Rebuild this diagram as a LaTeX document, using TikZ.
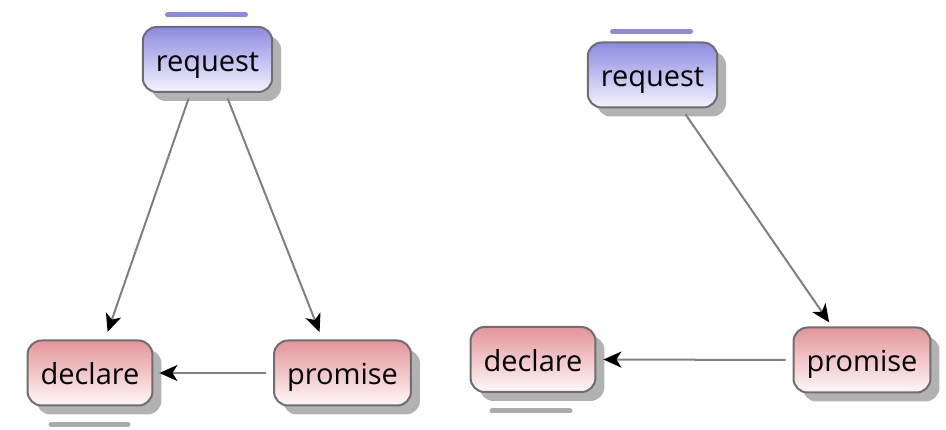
\documentclass[tikz,border=0pt]{standalone}
\usepackage{fontspec}
\setmainfont{Open Sans}
\usetikzlibrary{arrows.meta,shadows}
\definecolor{gris}{HTML}{808080}
\definecolor{bord}{HTML}{6E6E6E}
\definecolor{bleuhaut}{HTML}{8C8AE0}
\definecolor{bleubas}{HTML}{F4F4FF}
\definecolor{rougehaut}{HTML}{E3959A}
\definecolor{rougebas}{HTML}{FFF8F8}
\definecolor{barrebleue}{HTML}{8D89DB}
\definecolor{barregrise}{HTML}{ABABAB}
\begin{document}
\begin{tikzpicture}[x=1pt,y=-1pt]
	\tikzstyle{fleche}=[->,>={Stealth[length=18pt,width=16pt,inset=5pt,black]},draw=gris,line width=2pt]
	\tikzstyle{boite}=[draw=bord,line width=2pt,rounded corners=14pt,minimum height=65pt,inner xsep=13pt,
		font=\fontsize{29}{32}\selectfont,text height=24pt,text depth=0pt,
		drop shadow={shadow xshift=9pt,shadow yshift=-9pt,fill=black!30,opacity=1}]
	\tikzstyle{demande}=[boite,top color=bleuhaut,bottom color=bleubas]
	\tikzstyle{reponse}=[boite,top color=rougehaut,bottom color=rougebas]
	\tikzstyle{barre}=[line width=5pt,line cap=round]
	\useasboundingbox (0,0) rectangle (946,430);
	% premier schema
	\node[demande] (Ra) at (207.5,59.5) {request};
	\node[reponse] (Da) at (90,373) {declare};
	\node[reponse] (Pa) at (342.5,373) {promise};
	\draw[barre,barrebleue] ([xshift=-40pt,yshift=11pt]Ra.north) -- ++(78,0);
	\draw[barre,barregrise] ([xshift=-39pt,yshift=-18pt]Da.south) -- ++(77,0);
	\draw[fleche,shorten <=6pt,shorten >=8pt] ([xshift=-17pt]Ra.south)--([xshift=15pt]Da.north);
	\draw[fleche,shorten <=6pt,shorten >=8pt] ([xshift=18pt]Ra.south)--([xshift=-20pt]Pa.north);
	\draw[fleche,shorten <=7pt,shorten >=6pt] (Pa.west)--(Da.east);
	% second schema
	\node[demande] (Rb) at (652.5,75) {request};
	\node[reponse] (Db) at (533,359.5) {declare};
	\node[reponse] (Pb) at (862,360) {promise};
	\draw[barre,barrebleue] ([xshift=-40pt,yshift=10pt]Rb.north) -- ++(78,0);
	\draw[barre,barregrise] ([xshift=-41pt,yshift=-18pt]Db.south) -- ++(78,0);
	\draw[fleche,shorten <=7pt,shorten >=5pt] ([xshift=29pt]Rb.south)--([xshift=-30pt]Pb.north);
	\draw[fleche,shorten <=7pt,shorten >=7pt] (Pb.west)--(Db.east);
\end{tikzpicture}
\end{document}
